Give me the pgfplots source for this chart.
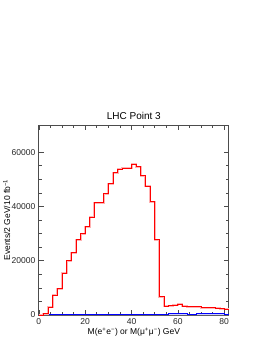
\documentclass[border=0pt]{standalone}
\usepackage{fontspec}
\setmainfont{Liberation Sans}
\usepackage{pgfplots}
\usepackage{pgfplotstable}
\pgfplotsset{compat=1.18}
\pgfplotstableread{
x y
0 0
2 500
4 2800
6 7200
8 9700
10 15500
12 20000
14 22900
16 27700
18 29900
20 32500
22 36000
24 41400
26 41400
28 44700
30 48400
32 52400
34 53800
36 54100
38 54100
40 55600
42 54600
44 51300
46 47500
48 41800
50 27800
52 6700
54 3200
56 3500
58 3700
60 4000
62 3200
64 3100
66 3100
68 3000
70 2700
72 2700
74 2700
76 2600
78 2300
80 2100
82 2100
}\redtab
\pgfplotstableread{
x y
0 100
2 100
4 150
6 150
8 150
10 200
12 200
14 200
16 250
18 250
20 250
22 300
24 300
26 300
28 300
30 300
32 300
34 300
36 300
38 350
40 350
42 350
44 350
46 300
48 300
50 300
52 300
54 350
56 500
58 500
60 500
62 500
64 300
66 300
68 400
70 500
72 500
74 500
76 400
78 400
80 300
82 300
}\bluetab
\begin{document}
\begin{tikzpicture}
\begin{axis}[
  at={(0pt,0pt)}, anchor=south west,
  scale only axis, width=190pt, height=190pt,
  xmin=0, xmax=82, ymin=0, ymax=70000,
  xtick={0,20,40,60,80}, minor x tick num=3,
  ytick={0,20000,40000,60000}, minor y tick num=3,
  tick align=inside, xtick pos=both, ytick pos=both,
  major tick length=5pt, minor tick length=3pt,
  scaled ticks=false,
  /pgf/number format/1000 sep={},
  /pgf/number format/assume math mode=true,
  tick label style={font=\fontsize{8.5}{10}\selectfont, text=black!85},
  axis line style={black!70, line width=0.8pt},
  every tick/.style={black!70, line width=0.6pt},
  title={LHC Point 3},
  title style={font=\fontsize{10}{12}\selectfont, yshift=-4pt},
  xlabel={M(e\textsuperscript{+}e\textsuperscript{−}) or M(μ\textsuperscript{+}μ\textsuperscript{−}) GeV},
  xlabel style={font=\fontsize{8.5}{10}\selectfont, yshift=3pt},
  ylabel={Events/2 GeV/10 fb\textsuperscript{−1}},
  every axis y label/.style={at={(axis description cs:0,0.5)}, xshift=-32pt, rotate=90, anchor=center, font=\fontsize{8.5}{10}\selectfont},
]
\addplot[blue!30, fill=blue!20, draw=none, const plot mark left] table[x=x,y=y] {\bluetab} \closedcycle;
\addplot[blue, line width=0.9pt, const plot mark left] table[x=x,y=y] {\bluetab};
\addplot[red!30, line width=2pt, const plot mark left] table[x=x,y=y] {\redtab};
\addplot[red, line width=0.8pt, const plot mark left] table[x=x,y=y] {\redtab};
\end{axis}
\path[use as bounding box] (-38pt,-38pt) rectangle (235pt,315pt);
\end{tikzpicture}
\end{document}
